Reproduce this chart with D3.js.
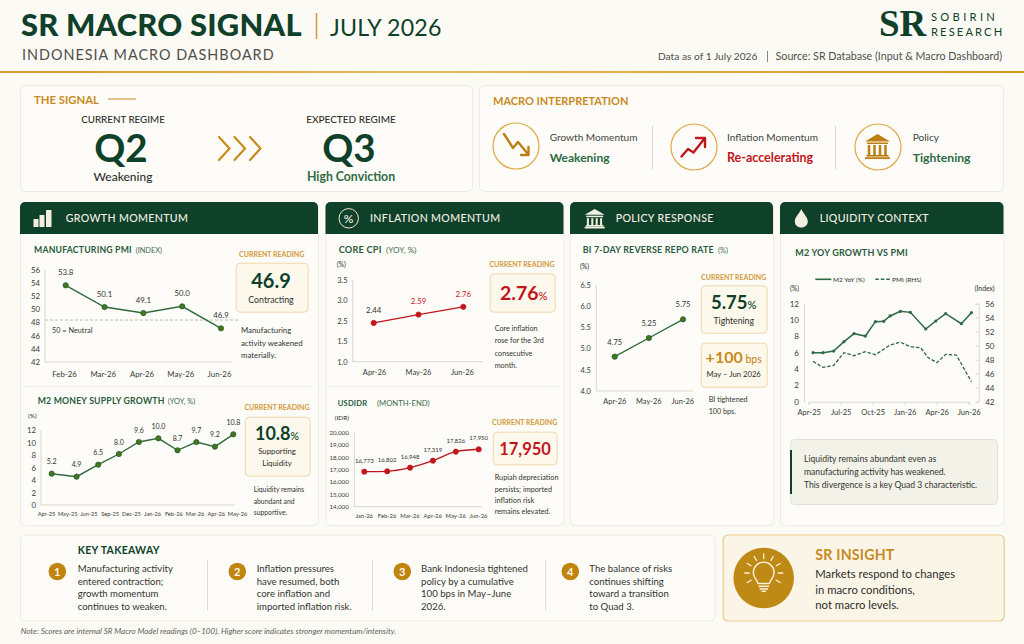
<!DOCTYPE html>
<html><head><meta charset="utf-8">
<script src="https://cdn.jsdelivr.net/npm/d3@7/dist/d3.min.js"></script>
<style>html,body{margin:0;padding:0;background:#fcfaf5;overflow:hidden}svg{display:block}text{font-family:Lato,"Open Sans",sans-serif}</style>
</head><body><svg id="c" width="1024" height="644"></svg>
<script>
// ---------- data ----------
const pmiMonths=["Feb-26","Mar-26","Apr-26","May-26","Jun-26"];
const pmiPlotted=[53.66,50.35,49.43,50.45,47.09];
const pmiLabels=["53.8","50.1","49.1","50.0","46.9"];
const pmiTicks=[42,44,46,48,50,52,54,56];
const pmiNeutralDrawnAt=48.36;

const m2Months=["Apr-25","May-25","Jun-25","Sep-25","Dec-25","Jan-26","Feb-26","Mar-26","Apr-26","May-26"];
const m2Plotted=[5.01,4.53,6.45,8.16,10.08,10.67,8.75,10.08,9.33,11.31];
const m2Labels=["5.2","4.9","6.5","8.0","9.6","10.0","8.7","9.7","9.2","10.8"];
const m2Ticks=[0,2,4,6,8,10,12];

const cpiMonths=["Apr-26","May-26","Jun-26"];
const cpiPlotted=[2.39,2.65,2.84];
const cpiLabels=["2.44","2.59","2.76"];
const cpiTicks=[1.0,1.5,2.5,3.0,3.5];

const idrMonths=["Jan-26","Feb-26","Mar-26","Apr-26","May-26","Jun-26"];
const idrPlotted=[16825,16852,17148,17713,18439,18628];
const idrLabels=["16,773","16,802","16,948","17,319","17,826","17,950"];
const idrTicks=[14000,15000,16000,17000,18000,19000,20000];

const repoMonths=["Apr-26","May-26","Jun-26"];
const repoPlotted=[4.81,5.25,5.69];
const repoLabels=["4.75","5.25","5.75"];
const repoTicks=[4.0,4.5,5.0,5.5,6.0,6.5];

const liqTickLabels=["Apr-25","Jul-25","Oct-25","Jan-26","Apr-26","Jun-26"];
const liqTickAt=[0,3,6,9,12,15];
const liqM2At=[0.41,1.34,2.34,3.31,4.25,5.31,6.25,7.03,7.63,8.59,9.53,10.97,11.91,12.84,14.31,15.25];
const liqM2=[6.0,6.0,6.2,7.35,8.33,8.04,9.8,9.84,10.5,11.06,10.94,8.9,9.88,10.78,9.55,10.9];
const liqPmiAt=[0.41,1.34,2.34,3.31,4.25,5.31,6.25,7.63,8.59,9.53,10.5,11.19,12.03,12.84,13.84,15.25];
const liqPmi=[47.76,46.9,47.19,49.0,48.57,49.14,48.71,50.1,50.5,49.86,49.7,48.3,47.57,48.76,48.67,44.86];
const liqLeftTicks=[0,2,4,6,8,10,12];
const liqRightTicks=[42,44,46,48,50,52,54,56];

const takeaways=[
 ["Manufacturing activity","entered contraction;","growth momentum","continues to weaken."],
 ["Inflation pressures","have resumed, both","core inflation and","imported inflation risk."],
 ["Bank Indonesia tightened","policy by a cumulative","100 bps in May–June","2026."],
 ["The balance of risks","continues shifting","toward a transition","to Quad 3."]];

// ---------- palette ----------
const GREEN="#0f4029",MID="#2f6a45",GOLD="#c98a1e",RED="#c3161c",INK="#2e2e2b",GREY="#50504a",AX="#d9d7cd";
const svg=d3.select("#c");
const defs=svg.append("defs");
const grad=defs.append("linearGradient").attr("id","rule");
[[0,"#d69a2d"],[.4,"#e6b95f"],[1,"#d4961f"]].forEach(s=>grad.append("stop").attr("offset",s[0]).attr("stop-color",s[1]));

function T(x,y,s,o={}){
  const t=svg.append("text").attr("x",x).attr("y",y).text(s)
   .attr("font-size",o.size||9).attr("font-weight",o.w||400).attr("fill",o.fill||INK)
   .attr("text-anchor",o.a||"start");
  if(o.ls)t.attr("letter-spacing",o.ls);
  if(o.font)t.style("font-family",o.font);
  if(o.it)t.attr("font-style","italic");
  return t;
}
function card(x,y,w,h,o={}){
  return svg.append("rect").attr("x",x+.5).attr("y",y+.5).attr("width",w).attr("height",h).attr("rx",o.r||5)
   .attr("fill",o.fill||"#fdfcf8").attr("stroke",o.stroke||"#eeebe0").attr("stroke-width",o.sw||1);
}
function path(d,stroke,sw,fill){
  return svg.append("path").attr("d",d).attr("fill",fill||"none").attr("stroke",stroke||"none")
   .attr("stroke-width",sw||0).attr("stroke-linejoin","round").attr("stroke-linecap","round");
}
function line(x1,y1,x2,y2,c,sw){
  return svg.append("line").attr("x1",x1).attr("y1",y1).attr("x2",x2).attr("y2",y2).attr("stroke",c).attr("stroke-width",sw||1);
}
function bank(cx,top,w,h,c){
  const l=cx-w/2,r=cx+w/2,hh=h*.3;
  path(`M${l},${top+hh}L${cx},${top}L${r},${top+hh}Z`,null,0,c);
  svg.append("rect").attr("x",l+w*.08).attr("y",top+hh+1).attr("width",w*.84).attr("height",1.5).attr("fill",c);
  [0.16,0.38,0.6,0.82].forEach(f=>svg.append("rect").attr("x",l+w*f-w*.05).attr("y",top+hh+3.5).attr("width",w*.1).attr("height",h*.42).attr("fill",c));
  svg.append("rect").attr("x",l+w*.06).attr("y",top+h*.84).attr("width",w*.88).attr("height",1.6).attr("fill",c);
  svg.append("rect").attr("x",l).attr("y",top+h*.93).attr("width",w).attr("height",1.8).attr("fill",c);
}

// ---------- header ----------
T(21,36,"SR MACRO SIGNAL",{size:30.9,w:900,fill:GREEN,ls:.2});
line(316.5,13,316.5,39,"#d39a3a",1.5);
T(330,36,"JULY 2026",{size:23.2,w:400,fill:GREEN,ls:.2});
T(22,60,"INDONESIA MACRO DASHBOARD",{size:14.4,fill:GREY,ls:1});
T(879,36,"SR",{size:37,w:700,fill:GREEN,font:'"Liberation Serif",serif'});
T(931,21,"SOBIRIN",{size:11.2,fill:GREEN,ls:3.3,w:400});
T(931,36,"RESEARCH",{size:11.2,fill:GREEN,ls:2.1,w:400});
T(658,60,"Data as of 1 July 2026",{size:10.2,fill:GREY});
line(767.5,51,767.5,62,"#888",1);
T(1002,60,"Source: SR Database (Input & Macro Dashboard)",{size:10.7,fill:GREY,a:"end"});
svg.append("rect").attr("x",0).attr("y",71).attr("width",1024).attr("height",2).attr("fill","url(#rule)");

// ---------- the signal ----------
card(20,85,452,106);
T(34,103.5,"THE SIGNAL",{size:11.3,w:700,fill:GOLD});
line(108,99,136,99,GOLD,1);
T(123,123,"CURRENT REGIME",{size:9.8,a:"middle",w:500});
T(351,123,"EXPECTED  REGIME",{size:10,a:"middle",w:500});
T(121,162,"Q2",{size:38.5,w:700,fill:GREEN,a:"middle"});
T(349,162,"Q3",{size:38.5,w:700,fill:GREEN,a:"middle"});
T(123,181,"Weakening",{size:12,a:"middle",w:500});
T(351,181,"High Conviction",{size:12.3,a:"middle",w:700,fill:MID});
[219,234.5,250].forEach(x=>path(`M${x},137L${x+10.5},148.5L${x},160`,"#c98a1e",2.2));

// ---------- interpretation ----------
card(479,85,524,106);
T(493,105,"MACRO INTERPRETATION",{size:11,w:700,fill:GOLD});
[[516,146],[694,147],[878,147]].forEach(c=>svg.append("circle").attr("cx",c[0]).attr("cy",c[1]).attr("r",23).attr("fill","none").attr("stroke","#dda845").attr("stroke-width",1.2));
path("M504,134L513,148L518,142L528,154","#bb7f14",2.4);
path("M521,155L528.5,155L528.5,147","#bb7f14",2.4);
path("M681.5,156.5L688,149L693.5,152.5L704.5,138.5",RED,2.4);
path("M696,138L705,138L705,147",RED,2.4);
bank(877.5,134,25,25,"#bb7f14");
[[549.7,"Growth Momentum","Weakening",MID,12],[727,"Inflation Momentum","Re-accelerating",RED,12.5],[912.7,"Policy","Tightening",MID,12.2]].forEach(d=>{
  T(d[0],140.5,d[1],{size:10.1,fill:"#44443f"});
  T(d[0],162,d[2],{size:d[4],w:700,fill:d[3]});
});
line(652.5,126,652.5,169,"#d8d6cc");line(835.5,126,835.5,169,"#d8d6cc");

// ---------- panels ----------
function panel(x,w,title,tx){
  card(x,202,w,323);
  path(`M${x},234V207a5,5 0 0 1 5,-5H${x+w-5}a5,5 0 0 1 5,5V234Z`,null,0,GREEN);
  T(tx,222,title,{size:10.6,w:500,fill:"#f4f1e6",ls:.35});
}
panel(20,298,"GROWTH MOMENTUM",65.7);
panel(325.5,238,"INFLATION MOMENTUM",370);
panel(570,203,"POLICY RESPONSE",615.7);
panel(780,223.5,"LIQUIDITY CONTEXT",819.7);
[[33.5,219,5,8],[39.5,215,5,12],[46,210,5.5,17]].forEach(b=>svg.append("rect").attr("x",b[0]).attr("y",b[1]-0).attr("width",b[2]).attr("height",b[3]).attr("rx",.6).attr("fill","#f3efe0"));
svg.append("circle").attr("cx",348.7).attr("cy",218.3).attr("r",9.7).attr("fill","none").attr("stroke","#efe6cc").attr("stroke-width",1);
T(348.7,222.5,"%",{size:12,fill:"#f4f1e6",a:"middle",w:500});
bank(594.7,209,20,19,"#f3efe0");
path("M801.3,209C799,214 794.8,217 794.8,221.5C794.8,225 797.6,227.5 801.3,227.5C805,227.5 807.8,225 807.8,221.5C807.8,217 803.6,214 801.3,209Z",null,0,"#f3efe0");
line(25,386.5,313,386.5,"#f0ede3");line(330,386.5,558,386.5,"#f0ede3");

function subtitle(x,y,s,size,sub,subx,subsize){
  T(x,y,s,{size:size,w:700,fill:"#2a5a3c",ls:.2});
  if(sub)T(subx,y,sub,{size:subsize||7.4,fill:"#3f6a4e"});
}
function reading(cx,y){T(cx,y,"CURRENT READING",{size:7,w:700,fill:"#d39a3a",a:"middle"});}
function box(x,y,w,h){card(x,y,w,h,{r:4,fill:"#fdf8ec",stroke:"#eed8ac"});}
function big(cx,y,num,unit,size,usize,fill){
  const t=T(cx,y,num,{size,w:700,fill,a:"middle"});
  if(unit)t.append("tspan").text(unit).attr("font-size",usize).attr("font-weight",500);
}
function notes(x,ys,lines,size){lines.forEach((l,i)=>T(x,ys[i],l,{size:size||7.8,fill:"#34342f"}));}

function chart(o){
  const yScale=d3.scaleLinear().domain(o.yDomain).range(o.yRange);
  // the tick labels and the marks sit on slightly different spacings in the picture
  const axisScale=d3.scalePoint().domain(o.cats).range(o.xAxisRange||o.xRange);
  const idx=o.cats.map((c,i)=>i);
  const markScale=o.pow?d3.scalePow().exponent(o.pow).domain([0,idx.length-1]).range(o.xRange)
                       :d3.scaleLinear().domain([0,idx.length-1]).range(o.xRange);
  const gy=svg.append("g").attr("transform",`translate(${o.axisX},0)`)
    .call(d3.axisLeft(yScale).tickValues(o.yTicks).tickSize(0).tickPadding(o.ypad||5).tickFormat(o.yFmt));
  const gx=svg.append("g").attr("transform",`translate(0,${o.axisY})`)
    .call(d3.axisBottom(axisScale).tickSize(0).tickPadding(o.xpad||8));
  [gy,gx].forEach(g=>{g.select(".domain").remove();g.selectAll("text").attr("font-size",o.size||7.8).attr("fill","#3a3a36").style("font-family","Lato");});
  gx.selectAll("text").attr("font-size",o.xsize||o.size||7.8);
  line(o.axisX,o.yRange[o.yRange.length-1],o.axisX,o.axisY,AX);
  line(o.axisX,o.axisY,o.axisEnd,o.axisY,AX);
  if(o.extra)o.extra(yScale);
  const l=d3.line().x((d,i)=>markScale(i)).y(d=>yScale(d));
  if(o.curve)l.curve(o.curve);
  svg.append("path").attr("d",l(o.vals)).attr("fill","none").attr("stroke",o.color).attr("stroke-width",o.sw||1.4);
  svg.append("g").selectAll("circle").data(o.vals).join("circle")
    .attr("cx",(d,i)=>markScale(i)).attr("cy",d=>yScale(d)).attr("r",o.r||2.6)
    .attr("fill",o.dot).attr("stroke",o.dotStroke||o.color).attr("stroke-width",.8);
  svg.append("g").selectAll("text").data(o.labels).join("text")
    .attr("x",(d,i)=>markScale(i)).attr("y",(d,i)=>yScale(o.vals[i])-o.off)
    .attr("text-anchor","middle").attr("font-size",o.lsize||7.8)
    .attr("fill",(d,i)=>o.labelFill?o.labelFill(i):"#33332f").text(d=>d);
}

// ---- PMI
subtitle(34,253.3,"MANUFACTURING PMI",8.7,"(INDEX)",135.7);
chart({cats:pmiMonths,vals:pmiPlotted,labels:pmiLabels,yDomain:[42,56],yRange:[361.7,270],yTicks:pmiTicks,yFmt:d=>d,
 xRange:[65.7,221],xAxisRange:[64,219],axisX:45,axisY:362,axisEnd:232,color:"#2f6b3c",dot:"#3f7a1c",dotStroke:"#24552c",off:10,xpad:9,
 extra:y=>{line(45,y(pmiNeutralDrawnAt),240,y(pmiNeutralDrawnAt),"#bdbbb0").attr("stroke-dasharray","3 2");}});
T(52,332.7,"50 = Neutral",{size:7.3,fill:"#34342f"});
reading(271.7,256.7);box(235.7,262.7,72,49);
big(271,288,"46.9",null,20,0,GREEN);
T(271,303,"Contracting",{size:8.8,a:"middle"});
notes(241,[333,345.5,358],["Manufacturing","activity weakened","materially."]);

// ---- M2
subtitle(37.7,404,"M2 MONEY SUPPLY GROWTH",8.7,"(YOY, %)",167.7);
T(28,418,"(%)",{size:6.5});
chart({cats:m2Months,vals:m2Plotted,labels:m2Labels,yDomain:[0,12],yRange:[505,430],yTicks:m2Ticks,yFmt:d=>d,
 xRange:[51.7,233.3],xAxisRange:[46,237],pow:.905,axisX:41,axisY:505,axisEnd:235,color:"#2f6b3c",dot:"#3f7a1c",dotStroke:"#24552c",off:9.2,xsize:5.7,lsize:7,xpad:7});
reading(277,410);box(244.7,416.7,65,59);
big(277,440,"10.8","%",18,10.5,GREEN);
T(277,454,"Supporting",{size:7.8,a:"middle"});T(277,466,"Liquidity",{size:7.8,a:"middle"});
notes(253.7,[492,503.5,515],["Liquidity remains","abundant and","supportive."],6.8);

// ---- Core CPI (the axis as printed skips 2.0, so the scale is piecewise)
subtitle(338.7,253.3,"CORE CPI",9.2,"(YOY, %)",386,8.2);
T(336.7,267,"(%)",{size:6.8});
chart({cats:cpiMonths,vals:cpiPlotted,labels:cpiLabels,yDomain:cpiTicks,yRange:[361.7,341,320.7,300.3,280],yTicks:cpiTicks,yFmt:d3.format(".1f"),
 xRange:[373.7,463.3],xAxisRange:[374,462],axisX:352.7,axisY:361.7,axisEnd:483,color:RED,dot:RED,off:10.3,xpad:8,size:7.5,
 labelFill:i=>i===0?"#33332f":RED});
reading(522,267.3);box(489.7,273.3,65,38.4);
big(523.7,300,"2.76","%",19.5,11,RED);
notes(494.7,[330.7,343.3,355.7,368],["Core inflation","rose for the 3rd","consecutive","month."],7.2);

// ---- USDIDR
subtitle(337.7,406,"USDIDR",7.6,"(MONTH-END)",377,7.7);
T(334.7,419.7,"(IDR)",{size:6.5});
chart({cats:idrMonths,vals:idrPlotted,labels:idrLabels,yDomain:[14000,20000],yRange:[506.7,432.3],yTicks:idrTicks,yFmt:d3.format(","),
 xRange:[364.3,478.7],xAxisRange:[363.7,478],axisX:354.3,axisY:506.7,axisEnd:482,color:RED,dot:RED,off:9,size:6.2,xsize:5.9,lsize:6,xpad:7,ypad:5.5,curve:d3.curveMonotoneX});
reading(524.7,425);box(492.7,431.7,64,32.6);
big(525,455,"17,950",null,16.5,0,RED);
notes(494.7,[480,491.7,502.7,514],["Rupiah depreciation","persists; imported","inflation risk","remains elevated."],7.3);

// ---- Repo
subtitle(582.7,253.3,"BI 7-DAY REVERSE REPO RATE",8.9,"(%)",718);
T(580,268.7,"(%)",{size:6.8});
chart({cats:repoMonths,vals:repoPlotted,labels:repoLabels,yDomain:[4,6.5],yRange:[391,285],yTicks:repoTicks,yFmt:d3.format(".1f"),
 xRange:[614.7,683],xAxisRange:[614.3,682.3],axisX:596.3,axisY:391,axisEnd:693,color:"#2f6b3c",dot:"#3f7a1c",dotStroke:"#24552c",off:12,xpad:8,ypad:5.5,size:7.4,lsize:7.5});
reading(733.7,280);box(700.7,285.3,66,47.4);
big(733.7,309.3,"5.75","%",18.5,11,GREEN);
T(733.7,324,"Tightening",{size:8.7,a:"middle"});
box(700.7,342.7,66,44);
big(733.7,363.3,"+100"," bps",16,10.5,GOLD);
T(733.7,376.7,"May – Jun 2026",{size:7.7,a:"middle"});
notes(708.7,[401.7,414],["BI tightened","100 bps."],7.2);

// ---- Liquidity
subtitle(795.3,256,"M2 YOY GROWTH VS PMI",9);
line(815.3,279.3,831.3,279.3,MID,1.6);
T(833,281.5,"M2 YoY (%)",{size:6.5});
line(875.3,279.3,890,279.3,MID,1.4).attr("stroke-dasharray","3.5 2");
T(892,281.5,"PMI (RHS)",{size:6.5});
T(790,290.7,"(%)",{size:6.8});T(994.7,290.7,"(Index)",{size:6.8,a:"end"});
{
  const x=d3.scaleLinear().domain([0,15]).range([808.7,968.7]);
  const yL=d3.scaleLinear().domain([0,12]).range([401.7,303.7]);
  const yR=d3.scaleLinear().domain([42,56]).range([401.7,303.7]);
  const gL=svg.append("g").attr("transform","translate(804,0)").call(d3.axisLeft(yL).tickValues(liqLeftTicks).tickSize(0).tickPadding(5));
  const gR=svg.append("g").attr("transform","translate(978.7,0)").call(d3.axisRight(yR).tickValues(liqRightTicks).tickSize(-3).tickPadding(6.5));
  const gB=svg.append("g").attr("transform","translate(0,401.7)").call(d3.axisBottom(x).tickValues(liqTickAt).tickSize(3).tickPadding(5).tickFormat((d,i)=>liqTickLabels[i]));
  [gL,gR,gB].forEach(g=>{g.selectAll(".domain,line").attr("stroke",AX);g.selectAll("text").attr("font-size",8).attr("fill","#3a3a36").style("font-family","Lato");});
  gB.selectAll("text").attr("font-size",7.5);
  svg.append("path").attr("d",d3.line().x((d,i)=>x(liqPmiAt[i])).y(d=>yR(d))(liqPmi)).attr("fill","none").attr("stroke",MID).attr("stroke-width",1.3).attr("stroke-dasharray","3.5 1.8");
  svg.append("path").attr("d",d3.line().x((d,i)=>x(liqM2At[i])).y(d=>yL(d))(liqM2)).attr("fill","none").attr("stroke",MID).attr("stroke-width",1.5);
  svg.append("g").selectAll("circle").data(liqM2).join("circle").attr("cx",(d,i)=>x(liqM2At[i])).attr("cy",d=>yL(d)).attr("r",1.6).attr("fill",MID);
}
card(790,439,207,65,{r:4,fill:"#f2f2e9",stroke:"#dfe2d2"});
svg.append("rect").attr("x",790).attr("y",450).attr("width",2).attr("height",44).attr("fill",GREEN);
notes(804,[461.7,475,487.7],["Liquidity remains abundant even as","manufacturing activity has weakened.","This divergence is a key Quad 3 characteristic."],8.6);

// ---------- bottom ----------
card(20,534.5,694.5,86);
T(77.7,554,"KEY TAKEAWAY",{size:10.5,w:700,fill:GREEN,ls:.3});
const tk=[[57.3,77.7],[237.3,256.7],[402.3,421],[570.3,589.3]];
takeaways.forEach((lines,i)=>{
  svg.append("circle").attr("cx",tk[i][0]).attr("cy",571.5).attr("r",8.8).attr("fill","#c0850f");
  T(tk[i][0],575.5,String(i+1),{size:11,w:700,fill:"#fdf8ea",a:"middle"});
  lines.forEach((l,j)=>T(tk[i][1],[572.3,584.7,597.3,609.7][j],l,{size:9.6,fill:"#34342f"}));
});
[207.5,372.5,545.7].forEach(x=>line(x,560,x,610.7,"#dedcd2"));
T(20.7,634,"Note: Scores are internal SR Macro Model readings (0–100). Higher score indicates stronger momentum/intensity.",{size:8,it:true,fill:"#5f5f58"});

card(722.7,534.5,281,86,{fill:"#fbf5e7",stroke:"#ebc98a",sw:1.2});
svg.append("circle").attr("cx",763.7).attr("cy",578).attr("r",30.3).attr("fill","#bf8916");
const BL="#fbf3dc";
path("M758,583.5C757,579.5 753.3,578 753.3,572.5A10.4,10.4 0 0 1 774.1,572.5C774.1,578 770.4,579.5 769.4,583.5Z",BL,1.4);
line(758.5,586.3,769,586.3,BL,1.5);line(759.5,589,768,589,BL,1.5);line(761.5,591.3,766,591.3,BL,1.5);
[-90,-60,-30,0,30,-120,-150,180,150].forEach(a=>{
  const r=a*Math.PI/180,cx=763.7,cy=573,r1=14.5,r2=19;
  line(cx+r1*Math.cos(r),cy+r1*Math.sin(r),cx+r2*Math.cos(r),cy+r2*Math.sin(r),BL,1.3).attr("stroke-linecap","round");
});
T(815.3,559.5,"SR INSIGHT",{size:14.2,w:700,fill:GOLD,ls:.2});
["Markets respond to changes","in macro conditions,","not macro levels."].forEach((l,i)=>T(815.3,[578.3,593.7,608.7][i],l,{size:11.3,fill:"#2e2e2b"}));
</script></body></html>
